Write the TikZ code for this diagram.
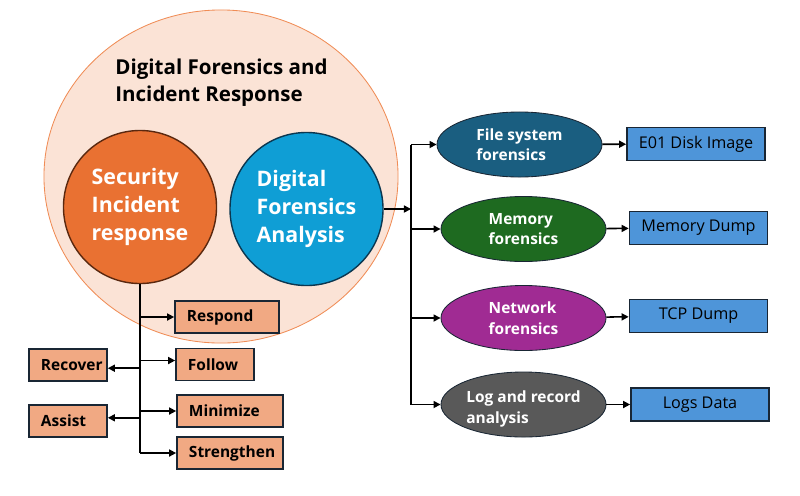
\documentclass[tikz,border=0pt]{standalone}
\usepackage{fontspec}
\setmainfont{Open Sans}
\usepackage{tikz}
\usetikzlibrary{positioning,arrows.meta,shapes.geometric}
\usepackage{xcolor}
\definecolor{peach}{RGB}{251,227,214}
\definecolor{peachline}{RGB}{240,140,85}
\definecolor{sirorange}{RGB}{233,113,50}
\definecolor{sirline}{RGB}{90,40,15}
\definecolor{dfablue}{RGB}{15,158,213}
\definecolor{dfaline}{RGB}{12,55,80}
\definecolor{tagfill}{RGB}{241,169,131}
\definecolor{boxline}{RGB}{25,38,52}
\definecolor{fsblue}{RGB}{26,94,128}
\definecolor{memgreen}{RGB}{30,106,32}
\definecolor{netpurple}{RGB}{160,43,147}
\definecolor{loggray}{RGB}{89,89,89}
\definecolor{datablue}{RGB}{78,149,217}

\begin{document}
\begin{tikzpicture}[x=0.025cm,y=-0.025cm,
  arr/.style={line width=1.1pt,-{Triangle[length=5pt,width=5pt]}},
  tagbox/.style={draw=boxline,fill=tagfill,line width=1.2pt,minimum height=0.8cm,
    inner xsep=0.3cm,align=left,font=\fontsize{11}{13}\selectfont\bfseries},
  kind/.style={ellipse,draw=boxline,line width=0.6pt,minimum width=4.125cm,minimum height=1.625cm,
    inner sep=0pt,align=left,text=white,font=\fontsize{11}{14.5}\selectfont\bfseries},
  databox/.style={draw=boxline,fill=datablue,line width=1.2pt,minimum width=3.45cm,minimum height=0.82cm,
    font=\fontsize{11.5}{13}\selectfont}]
\useasboundingbox (0,0) rectangle (800,495);
% Outer circle
\node[ellipse,draw=peachline,fill=peach,line width=0.6pt,minimum width=8.85cm,minimum height=8.325cm] (dfir) at (221,176.5) {};
\node[align=left,font=\fontsize{14.6}{19.5}\selectfont\bfseries] (title) at (221.5,82.5) {Digital Forensics and\\Incident Response};
% Inner circles
\node[circle,draw=sirline,fill=sirorange,line width=1pt,minimum size=3.825cm,align=left,text=white,
  font=\fontsize{15.2}{19.8}\selectfont\bfseries] (sir) at (140,207) {Security\\Incident\\response};
\node[circle,draw=dfaline,fill=dfablue,line width=1pt,minimum size=3.825cm,align=left,text=white,
  font=\fontsize{15.2}{19.8}\selectfont\bfseries] (dfa) at (306.5,209) {Digital\\Forensics\\Analysis};
% Incident response steps
\node[tagbox,text width=2cm] (respond) at (227,317) {Respond};
\node[tagbox,text width=1.35cm] (follow) at (215,364.5) {Follow};
\node[tagbox,text width=2.05cm] (minimize) at (230,411) {Minimize};
\node[tagbox,text width=2.05cm] (strengthen) at (230,453) {Strengthen};
\node[tagbox,text width=1.35cm] (recover) at (68,365) {Recover};
\node[tagbox,text width=1.35cm] (assist) at (68,421) {Assist};
\draw[line width=1.1pt] (sir.south) -- (sir.south |- strengthen);
\draw[arr] (sir.south |- respond) -- (respond);
\draw[arr] ([yshift=0.1cm]sir.south |- follow) -- ([yshift=0.1cm]follow.west);
\draw[arr] (sir.south |- minimize) -- (minimize);
\draw[arr] (sir.south |- strengthen) -- (strengthen);
\draw[arr] ([yshift=-0.08cm]sir.south |- recover) -- ([yshift=-0.08cm]recover.east);
\draw[arr] ([yshift=0.08cm]sir.south |- assist) -- ([yshift=0.08cm]assist.east);
% Forensics kinds
\node[kind,fill=fsblue] (fsf) at (519.5,144.5) {File system\\forensics};
\node[kind,fill=memgreen] (memf) at (523.5,229) {Memory\\forensics};
\node[kind,fill=netpurple] (netf) at (523.5,318) {Network\\forensics};
\node[kind,fill=loggray,text height=1.03cm] (logf) at (523.5,404.5) {Log and record\\analysis};
\coordinate (hub) at (411,209);
\draw[arr] (dfa.east) -- (hub);
\draw[line width=1.1pt] (hub |- fsf) -- (hub |- logf);
\draw[arr] (hub |- fsf) -- (fsf);
\draw[arr] (hub |- memf) -- (memf);
\draw[arr] (hub |- netf) -- (netf);
\draw[arr] (hub |- logf) -- (logf);
% Data sources
\node[databox] (e01) at (696,144) {E01 Disk Image};
\node[databox] (memdump) at (698.5,228) {Memory Dump};
\node[databox] (tcpdump) at (698.5,316) {TCP Dump};
\node[databox] (logsdata) at (700,404.5) {Logs Data};
\draw[arr] (fsf) -- (e01);
\draw[arr] (memf) -- (memdump);
\draw[arr] (netf) -- (tcpdump);
\draw[arr] (logf) -- (logsdata);
\end{tikzpicture}
\end{document}
